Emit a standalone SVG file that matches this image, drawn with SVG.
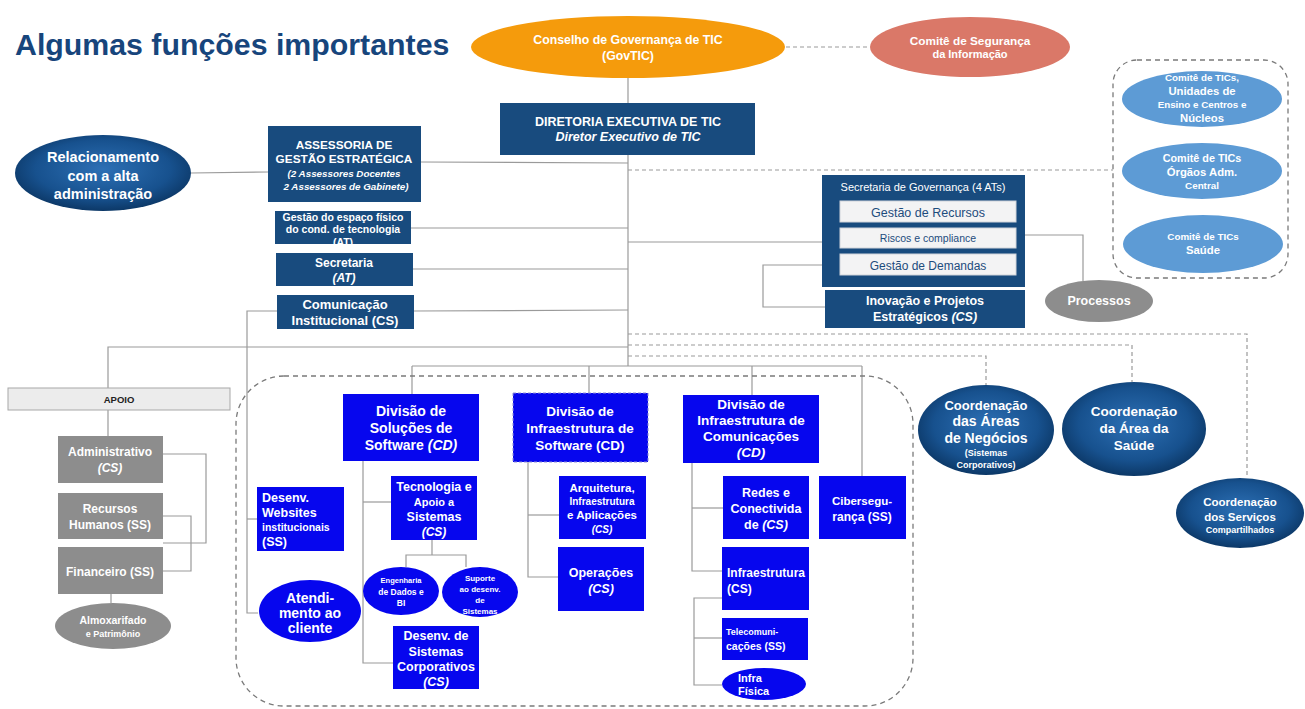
<svg xmlns="http://www.w3.org/2000/svg" width="1305" height="709" viewBox="0 0 1305 709">
<defs>
  <radialGradient id="navyGrad" cx="50%" cy="45%" r="55%">
    <stop offset="0" stop-color="#2d70b5"/>
    <stop offset="0.7" stop-color="#17518e"/>
    <stop offset="1" stop-color="#0c3867"/>
  </radialGradient>
  <clipPath id="clipEsp"><rect x="275" y="211" width="136" height="33"/></clipPath>
</defs>
<style>
  text { font-family: "Liberation Sans", Arial, sans-serif; font-weight: bold; fill: #ffffff; text-anchor: middle; }
  .title { fill: #17457c; font-size: 30.3px; text-anchor: start; }
  .navy { fill: #184b7e; }
  .blue { fill: #0606ee; }
  .gray { fill: #8d8d8d; }
  .light { fill: #5d9bd5; }
  .inner { fill: #f3f3f4; stroke: #d0d4da; stroke-width: 1; }
  .innerTxt { fill: #1d4c7d; font-weight: normal; }
  .nb { font-weight: normal; }
  .dark { fill: #222222; }
  .ln { fill: none; stroke: #9a9a9a; stroke-width: 1.2; }
  .dash { fill: none; stroke: #9a9a9a; stroke-width: 1.2; stroke-dasharray: 4 3; }
  .dashbox { fill: none; stroke: #7a7a7a; stroke-width: 1.3; stroke-dasharray: 5 4; }
  .it { font-style: italic; }
  .lt { text-anchor: start; }
</style>

<text class="title" x="15" y="55">Algumas funções importantes</text>

<!-- connectors -->
<g id="connectors">
  <line class="ln" x1="628" y1="78" x2="628" y2="103"/>
  <line class="dash" x1="786" y1="47" x2="870" y2="47"/>
  <line class="ln" x1="628" y1="155" x2="628" y2="366"/>
  <line class="ln" x1="191" y1="173" x2="268" y2="172"/>
  <line class="ln" x1="421" y1="162" x2="628" y2="163"/>
  <line class="dash" x1="628" y1="170" x2="1113" y2="170"/>
  <line class="ln" x1="411" y1="228" x2="628" y2="228"/>
  <line class="ln" x1="413" y1="269" x2="628" y2="269"/>
  <line class="ln" x1="414" y1="311" x2="628" y2="310"/>
  <polyline class="ln" points="277,311 247,311 247,613 258,613"/>
  <line class="ln" x1="247" y1="519" x2="257" y2="519"/>
  <line class="ln" x1="628" y1="242" x2="822" y2="242"/>
  <polyline class="ln" points="840,265 763,265 763,307 825,307"/>
  <polyline class="ln" points="1016,235 1083,235 1083,281"/>
  <polyline class="ln" points="628,347 108,347 108,388"/>
  <line class="ln" x1="108" y1="410" x2="108" y2="436"/>
  <polyline class="ln" points="163,454 206,454 206,543 163,543"/>
  <polyline class="ln" points="163,516 191,516 191,571 163,571"/>
  <line class="ln" x1="111" y1="594" x2="111" y2="603"/>
  <polyline class="dash" points="628,334 1247,334 1247,478"/>
  <polyline class="dash" points="628,345 1132,345 1132,382"/>
  <polyline class="dash" points="628,356 986,356 986,385"/>
  <line class="ln" x1="412" y1="366" x2="862" y2="366"/>
  <line class="ln" x1="412" y1="366" x2="412" y2="394"/>
  <line class="ln" x1="589" y1="366" x2="589" y2="393"/>
  <line class="ln" x1="752" y1="366" x2="752" y2="395"/>
  <line class="ln" x1="862" y1="366" x2="862" y2="476"/>
  <polyline class="ln" points="363,461 363,663 393,663"/>
  <line class="ln" x1="363" y1="502" x2="391" y2="502"/>
  <line class="ln" x1="432" y1="540" x2="432" y2="555"/>
  <polyline class="ln" points="406,567 406,555 466,555 466,567"/>
  <polyline class="ln" points="528,462 528,577 558,577"/>
  <line class="ln" x1="528" y1="515" x2="559" y2="515"/>
  <polyline class="ln" points="692,463 692,571 722,571"/>
  <line class="ln" x1="692" y1="508" x2="723" y2="508"/>
  <polyline class="ln" points="722,598 694,598 694,685 722,685"/>
  <line class="ln" x1="694" y1="638" x2="722" y2="638"/>
</g>

<!-- dashed group boxes -->
<rect class="dashbox" x="236" y="376" width="677" height="330" rx="48" ry="48"/>
<rect class="dashbox" x="1113" y="60" width="175" height="218" rx="24" ry="24"/>

<g id="conselho">
  <ellipse cx="628" cy="47" rx="157" ry="31" fill="#f59b0c"/>
  <text x="628" y="44" font-size="12.3">Conselho de Governança de TIC</text>
  <text x="628" y="60" font-size="12.3">(GovTIC)</text>
</g>
<g id="comite-seguranca">
  <ellipse cx="970" cy="47" rx="100" ry="30" fill="#da7868"/>
  <text x="970" y="45" font-size="11.8">Comitê de Segurança</text>
  <text x="970" y="58" font-size="11">da Informação</text>
</g>
<g id="diretoria">
  <rect class="navy" x="500" y="103" width="255" height="52"/>
  <text x="628" y="126" font-size="12.5">DIRETORIA EXECUTIVA DE TIC</text>
  <text class="it" x="628" y="141" font-size="12.5">Diretor Executivo de TIC</text>
</g>
<g id="relacionamento">
  <ellipse cx="103" cy="173" rx="88" ry="38" fill="url(#navyGrad)"/>
  <text x="103" y="162" font-size="14.5">Relacionamento</text>
  <text x="103" y="181" font-size="14.5">com a alta</text>
  <text x="103" y="199" font-size="14.5">administração</text>
</g>
<g id="assessoria">
  <rect class="navy" x="268" y="126" width="153" height="76"/>
  <text x="344" y="149" font-size="11.8">ASSESSORIA DE</text>
  <text x="344" y="163" font-size="11.8">GESTÃO ESTRATÉGICA</text>
  <text class="it" x="344" y="177" font-size="9.8">(2 Assessores Docentes</text>
  <text class="it" x="346" y="190" font-size="9.8">2 Assessores de Gabinete)</text>
</g>
<g id="gestao-espaco">
  <rect class="navy" x="275" y="211" width="136" height="33"/>
  <g clip-path="url(#clipEsp)">
    <text x="343" y="221" font-size="10.5">Gestão do espaço físico</text>
    <text x="343" y="233" font-size="10.5">do cond. de tecnologia</text>
    <text x="343" y="246" font-size="10.5">(AT)</text>
  </g>
</g>
<g id="secretaria">
  <rect class="navy" x="276" y="253" width="137" height="33"/>
  <text x="344" y="267" font-size="12">Secretaria</text>
  <text class="it" x="344" y="282" font-size="12">(AT)</text>
</g>
<g id="comunicacao">
  <rect class="navy" x="277" y="295" width="137" height="34"/>
  <text x="345" y="309" font-size="13">Comunicação</text>
  <text x="345" y="325" font-size="13">Institucional (CS)</text>
</g>

<g id="secretaria-governanca">
  <rect class="navy" x="822" y="175" width="203" height="112"/>
  <text class="nb" x="923" y="191" font-size="11">Secretaria de Governança (4 ATs)</text>
  <rect class="inner" x="840" y="201" width="176" height="21"/>
  <text class="innerTxt" x="928" y="217" font-size="12.5">Gestão de Recursos</text>
  <rect class="inner" x="840" y="228" width="176" height="20"/>
  <text class="innerTxt" x="928" y="242" font-size="10.5">Riscos e compliance</text>
  <rect class="inner" x="840" y="254" width="176" height="21"/>
  <text class="innerTxt" x="928" y="270" font-size="12">Gestão de Demandas</text>
</g>
<g id="inovacao">
  <rect class="navy" x="825" y="290" width="200" height="38"/>
  <text x="925" y="305" font-size="12.5">Inovação e Projetos</text>
  <text x="925" y="321" font-size="12.5">Estratégicos <tspan class="it">(CS)</tspan></text>
</g>
<g id="processos">
  <ellipse class="gray" cx="1099" cy="301" rx="54" ry="21"/>
  <text x="1099" y="305" font-size="12.5">Processos</text>
</g>

<g id="comite-unidades">
  <ellipse class="light" cx="1202" cy="99" rx="80" ry="28"/>
  <text x="1202" y="81" font-size="9.8">Comitê de TICs,</text>
  <text x="1202" y="95" font-size="11.3">Unidades de</text>
  <text x="1202" y="108" font-size="9.8">Ensino e Centros e</text>
  <text x="1202" y="122" font-size="11.3">Núcleos</text>
</g>
<g id="comite-orgaos">
  <ellipse class="light" cx="1202" cy="171" rx="80" ry="28"/>
  <text x="1202" y="162" font-size="10.8">Comitê de TICs</text>
  <text x="1202" y="176" font-size="11.3">Órgãos Adm.</text>
  <text x="1202" y="189" font-size="9.8">Central</text>
</g>
<g id="comite-saude">
  <ellipse class="light" cx="1203" cy="244" rx="80" ry="29"/>
  <text x="1203" y="240" font-size="9.8">Comitê de TICs</text>
  <text x="1203" y="254" font-size="11.3">Saúde</text>
</g>

<g id="apoio">
  <rect x="8" y="388" width="222" height="22" fill="#ececec" stroke="#a8a8a8" stroke-width="1"/>
  <text class="dark" x="119" y="403" font-size="9.5">APOIO</text>
</g>
<g id="administrativo">
  <rect class="gray" x="58" y="436" width="105" height="47"/>
  <text x="110" y="456" font-size="12">Administrativo</text>
  <text class="it" x="110" y="472" font-size="12">(CS)</text>
</g>
<g id="rh">
  <rect class="gray" x="58" y="493" width="105" height="46"/>
  <text x="110" y="513" font-size="12">Recursos</text>
  <text x="110" y="529" font-size="12">Humanos (SS)</text>
</g>
<g id="financeiro">
  <rect class="gray" x="58" y="547" width="105" height="47"/>
  <text x="110" y="576" font-size="12">Financeiro (SS)</text>
</g>
<g id="almoxarifado">
  <ellipse class="gray" cx="113" cy="626" rx="58" ry="23"/>
  <text x="113" y="624" font-size="10.5">Almoxarifado</text>
  <text x="113" y="637" font-size="9">e Patrimônio</text>
</g>

<g id="div-solucoes">
  <rect class="blue" x="343" y="394" width="136" height="67"/>
  <text x="411" y="416" font-size="14">Divisão de</text>
  <text x="411" y="433" font-size="14">Soluções de</text>
  <text x="411" y="450" font-size="14">Software <tspan class="it">(CD)</tspan></text>
</g>
<g id="div-infra-software">
  <rect class="blue" x="513" y="393" width="135" height="69" stroke="#8e8ed8" stroke-width="1" stroke-dasharray="3 2"/>
  <text x="580" y="416" font-size="13.5">Divisão de</text>
  <text x="580" y="433" font-size="13.5">Infraestrutura de</text>
  <text x="580" y="450" font-size="13.5">Software (CD)</text>
</g>
<g id="div-infra-com">
  <rect class="blue" x="683" y="395" width="136" height="68"/>
  <text x="751" y="409" font-size="13.5">Divisão de</text>
  <text x="751" y="425" font-size="13.5">Infraestrutura de</text>
  <text x="751" y="441" font-size="13.5">Comunicações</text>
  <text class="it" x="751" y="457" font-size="13.5">(CD)</text>
</g>

<g id="tecnologia">
  <rect class="blue" x="391" y="476" width="86" height="64"/>
  <text x="434" y="491" font-size="12.5">Tecnologia e</text>
  <text x="434" y="506" font-size="11">Apoio a</text>
  <text x="434" y="521" font-size="12.5">Sistemas</text>
  <text class="it" x="434" y="536" font-size="12">(CS)</text>
</g>
<g id="websites">
  <rect class="blue" x="257" y="487" width="87" height="64"/>
  <text class="lt" x="262" y="502" font-size="12.5">Desenv.</text>
  <text class="lt" x="262" y="517" font-size="12.5">Websites</text>
  <text class="lt" x="262" y="531" font-size="10.5">institucionais</text>
  <text class="lt" x="262" y="546" font-size="12.5">(SS)</text>
</g>
<g id="atendimento">
  <ellipse class="blue" cx="310" cy="611" rx="51" ry="31"/>
  <text x="310" y="603" font-size="14">Atendi-</text>
  <text x="310" y="618" font-size="14">mento ao</text>
  <text x="310" y="633" font-size="14">cliente</text>
</g>
<g id="engenharia">
  <ellipse class="blue" cx="401" cy="591" rx="38" ry="24"/>
  <text x="401" y="583" font-size="7.5">Engenharia</text>
  <text x="401" y="595" font-size="8.5">de Dados e</text>
  <text x="401" y="606" font-size="8.5">BI</text>
</g>
<g id="suporte">
  <ellipse class="blue" cx="480" cy="592" rx="38" ry="25"/>
  <text x="480" y="581" font-size="8">Suporte</text>
  <text x="480" y="592" font-size="8">ao desenv.</text>
  <text x="480" y="603" font-size="8">de</text>
  <text x="480" y="614" font-size="8">Sistemas</text>
</g>
<g id="desenv-corporativos">
  <rect class="blue" x="393" y="626" width="86" height="63"/>
  <text x="436" y="640" font-size="12.5">Desenv. de</text>
  <text x="436" y="656" font-size="12.5">Sistemas</text>
  <text x="436" y="671" font-size="12.5">Corporativos</text>
  <text class="it" x="436" y="686" font-size="12.5">(CS)</text>
</g>

<g id="arquitetura">
  <rect class="blue" x="559" y="476" width="87" height="63"/>
  <text x="602" y="492" font-size="11.5">Arquitetura,</text>
  <text x="602" y="505" font-size="10">Infraestrutura</text>
  <text x="602" y="519" font-size="11.5">e Aplicações</text>
  <text class="it" x="602" y="533" font-size="10">(CS)</text>
</g>
<g id="operacoes">
  <rect class="blue" x="558" y="547" width="86" height="64"/>
  <text x="601" y="577" font-size="12.5">Operações</text>
  <text class="it" x="601" y="593" font-size="12.5">(CS)</text>
</g>

<g id="redes">
  <rect class="blue" x="723" y="476" width="86" height="63"/>
  <text x="766" y="497" font-size="12.5">Redes e</text>
  <text x="766" y="513" font-size="12.5">Conectivida</text>
  <text x="766" y="529" font-size="12.5">de <tspan class="it">(CS)</tspan></text>
</g>
<g id="ciberseguranca">
  <rect class="blue" x="819" y="476" width="87" height="63"/>
  <text x="862" y="505" font-size="11.5">Cibersegu-</text>
  <text x="862" y="521" font-size="12">rança (SS)</text>
</g>
<g id="infraestrutura">
  <rect class="blue" x="722" y="547" width="87" height="63"/>
  <text class="lt" x="727" y="577" font-size="12">Infraestrutura</text>
  <text class="lt" x="727" y="593" font-size="12">(CS)</text>
</g>
<g id="telecom">
  <rect class="blue" x="722" y="618" width="86" height="42"/>
  <text class="lt" x="726" y="635" font-size="9">Telecomuni-</text>
  <text class="lt" x="726" y="650" font-size="10.5">cações (SS)</text>
</g>
<g id="infra-fisica">
  <ellipse class="blue" cx="764" cy="684" rx="42" ry="16"/>
  <text class="lt" x="738" y="682" font-size="11">Infra</text>
  <text class="lt" x="738" y="695" font-size="11">Física</text>
</g>

<g id="coord-negocios">
  <ellipse cx="986" cy="430" rx="68" ry="45" fill="url(#navyGrad)"/>
  <text x="986" y="410" font-size="13">Coordenação</text>
  <text x="986" y="426" font-size="14">das Áreas</text>
  <text x="986" y="443" font-size="14">de Negócios</text>
  <text x="986" y="456" font-size="9">(Sistemas</text>
  <text x="986" y="468" font-size="9">Corporativos)</text>
</g>
<g id="coord-saude">
  <ellipse cx="1134" cy="429" rx="72" ry="47" fill="url(#navyGrad)"/>
  <text x="1134" y="416" font-size="13.5">Coordenação</text>
  <text x="1134" y="433" font-size="13.5">da Área da</text>
  <text x="1134" y="450" font-size="13.5">Saúde</text>
</g>
<g id="coord-servicos">
  <ellipse cx="1240" cy="513" rx="64" ry="35" fill="url(#navyGrad)"/>
  <text x="1240" y="506" font-size="11.5">Coordenação</text>
  <text x="1240" y="521" font-size="11.5">dos Serviços</text>
  <text x="1240" y="533" font-size="9">Compartilhados</text>
</g>
</svg>
